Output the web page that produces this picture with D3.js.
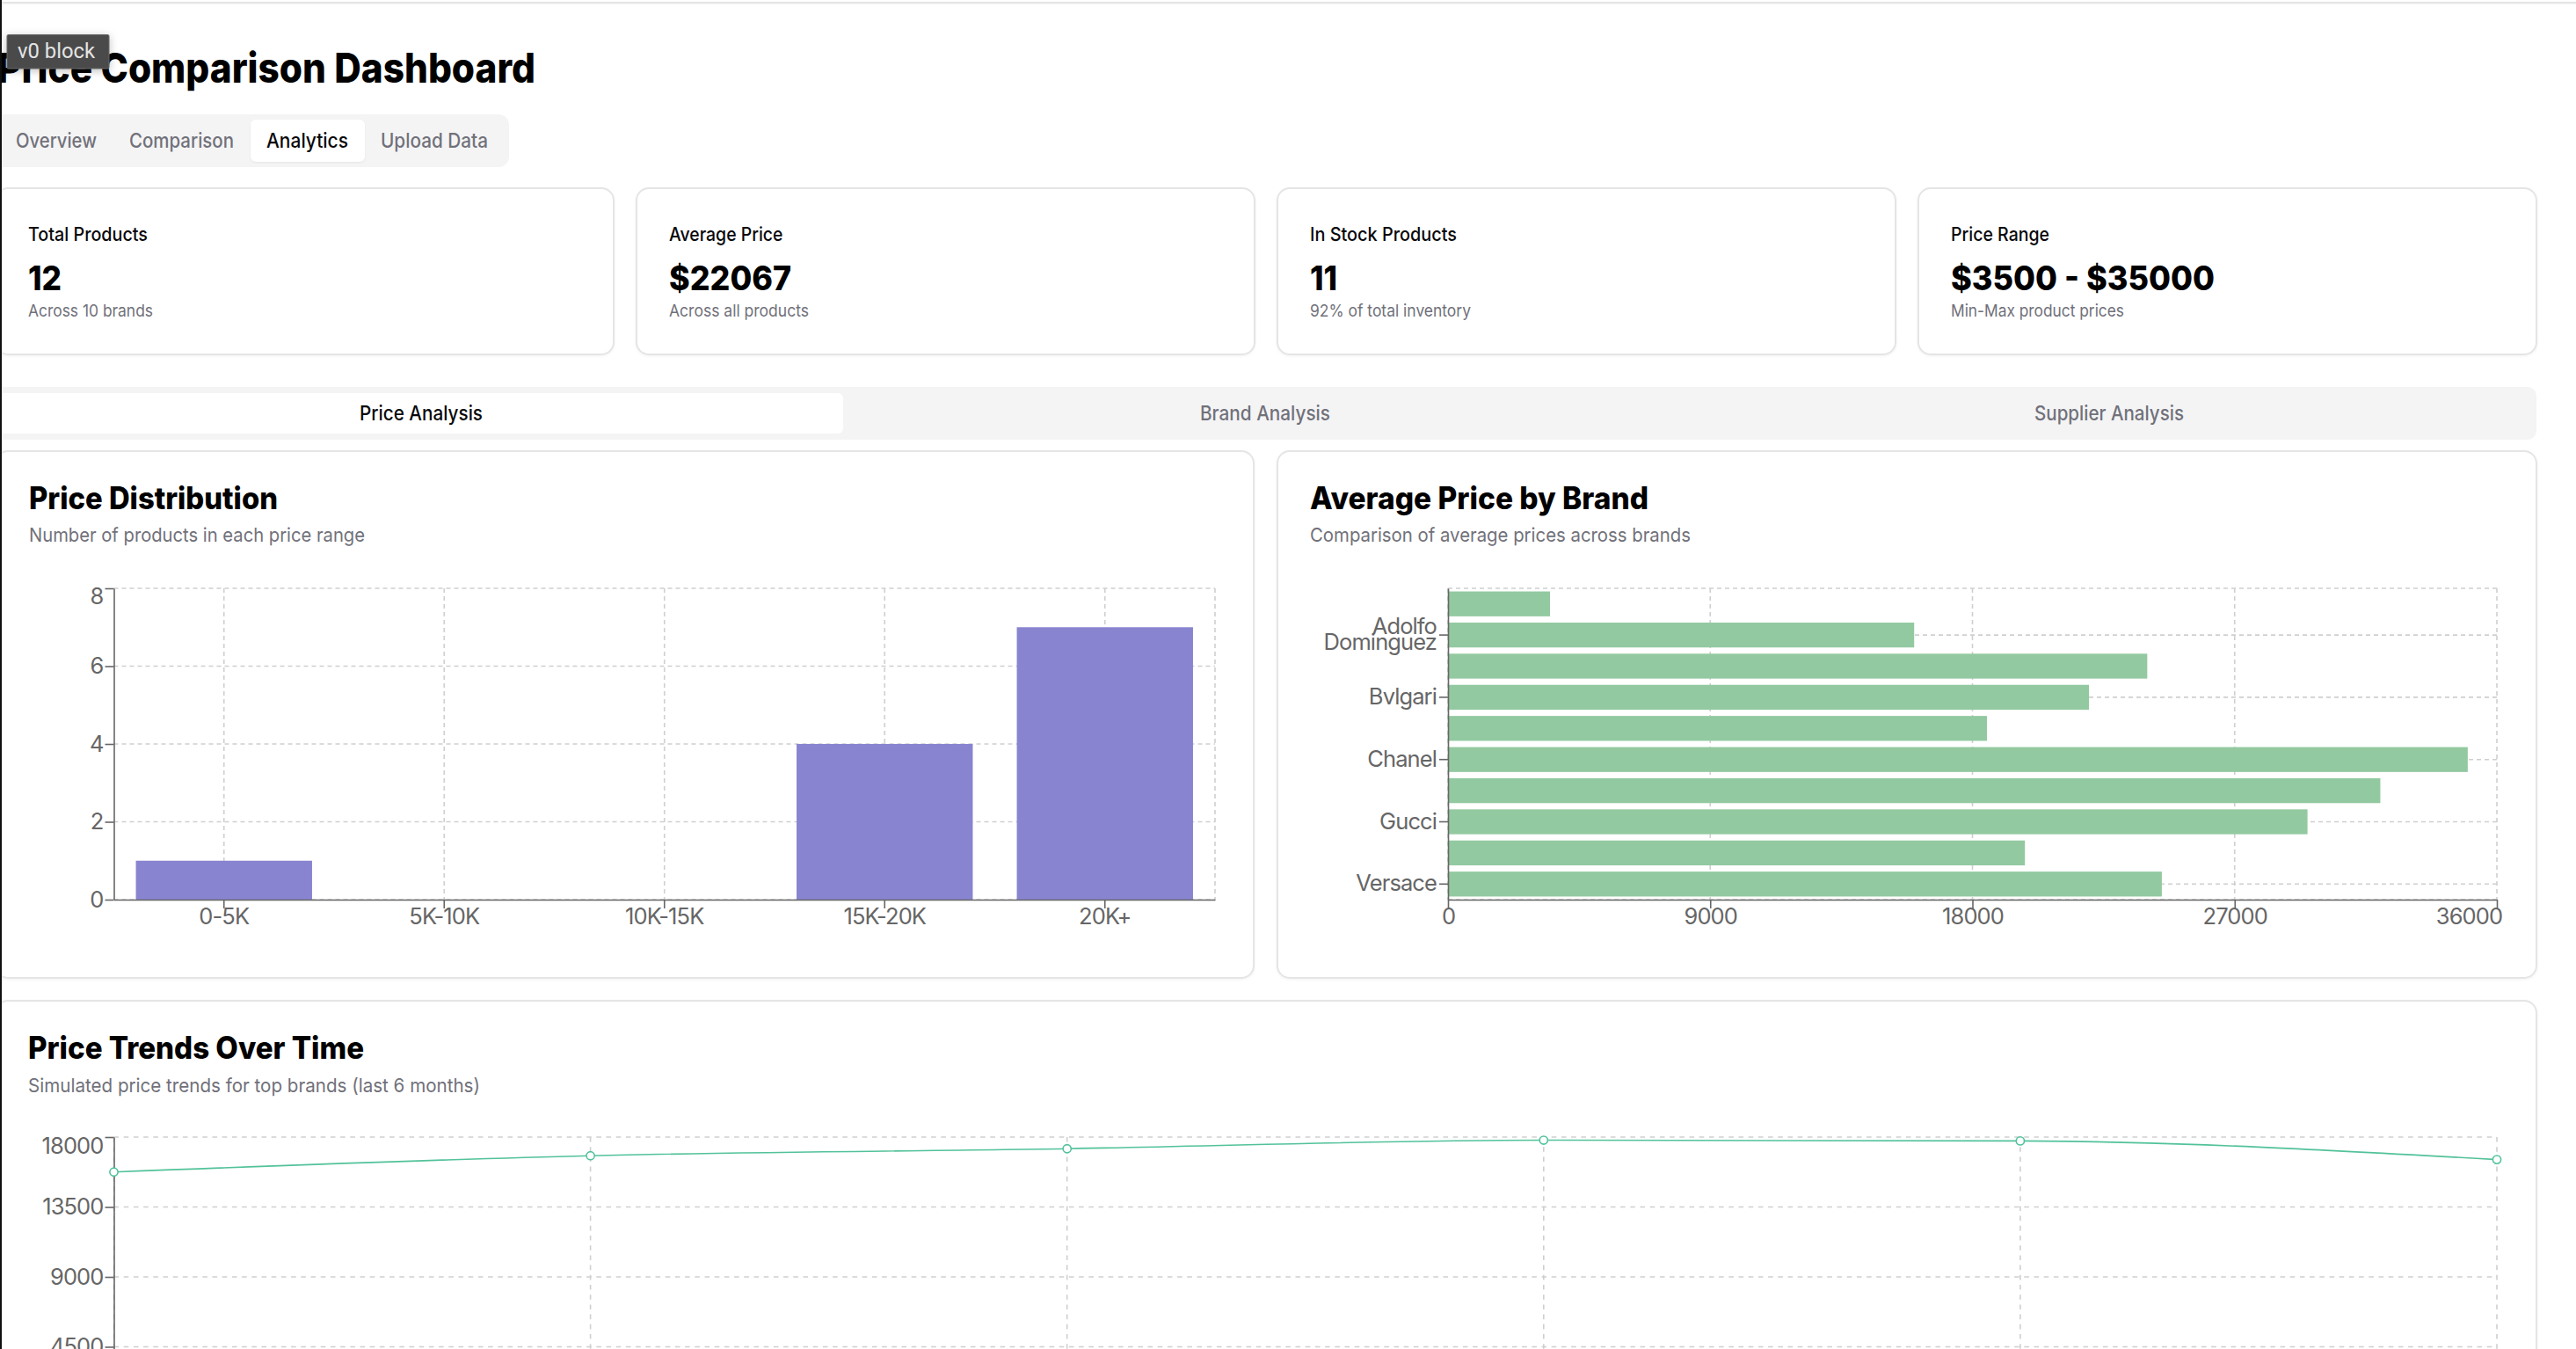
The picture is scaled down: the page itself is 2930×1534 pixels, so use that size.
<!DOCTYPE html>
<html><head><meta charset="utf-8">
<script src="https://cdn.jsdelivr.net/npm/d3@7"></script>
<style>
html,body{margin:0;padding:0;background:#fff;overflow:hidden}
svg{display:block;font-family:Inter,"Noto Sans",sans-serif}
.card{filter:drop-shadow(0 1.5px 1.5px rgba(0,0,0,.05))}
.axis text{font-family:Inter,sans-serif;font-size:25.5px;letter-spacing:-0.9px;fill:#666}
.axis path,.axis line{stroke:#666;stroke-width:1.6}
</style></head><body>
<script>
// ---- data ----
const navTabs = ["Overview","Comparison","Analytics","Upload Data"];
const statLabels = ["Total Products","Average Price","In Stock Products","Price Range"];
const statValues = ["12","$22067","11","$3500 - $35000"];
const statNotes = ["Across 10 brands","Across all products","92% of total inventory","Min-Max product prices"];
const subTabs = ["Price Analysis","Brand Analysis","Supplier Analysis"];

const priceRanges = ["0-5K","5K-10K","10K-15K","15K-20K","20K+"];
const priceCounts = [1,0,0,4,7];
const countTicks = [0,2,4,6,8];

const brandLabels = ["","Adolfo Dominguez","","Bvlgari","","Chanel","","Gucci","","Versace"];
const brandPrices = [3500,16000,24000,22000,18500,35000,32000,29500,19800,24500];
const brandTicks = [0,9000,18000,27000,36000];

const trendSteps = [0,1,2,3,4,5];
const trendPrices = [15750,16800,17250,17800,17750,16550];
const trendTicks = [4500,9000,13500,18000];

// ---- helpers ----
const W = 2930, H = 1534;
const svg = d3.select("body").append("svg").attr("width",W).attr("height",H).attr("viewBox",`0 0 ${W} ${H}`);
const MUTED = "#71717a", INK = "#09090b", GRID = "#cfcfcf";

function label(t,x,y,size,weight,fill,len,anchor){
  const e = svg.append("text").attr("x",x).attr("y",y).attr("font-size",size)
    .attr("font-weight",weight).attr("fill",fill).attr("text-anchor",anchor||"start").text(t);
  if(len) e.attr("textLength",len).attr("lengthAdjust","spacingAndGlyphs");
  return e;
}
function card(x,y,w,h){
  svg.append("rect").attr("class","card").attr("x",x).attr("y",y).attr("width",w).attr("height",h)
    .attr("rx",14).attr("fill","#fff").attr("stroke","#e5e5e5").attr("stroke-width",2);
}

// ---- page furniture ----
svg.append("rect").attr("x",0).attr("y",2).attr("width",W).attr("height",2.4).attr("fill","#e5e5e5");

label("Price Comparison Dashboard",-3,94,47,800,"#000",612);

svg.append("rect").attr("x",-20).attr("y",130).attr("width",599).attr("height",60).attr("rx",12).attr("fill","#f4f4f5");
svg.append("rect").attr("x",285).attr("y",136).attr("width",130).attr("height",48).attr("rx",6).attr("fill","#fff")
  .style("filter","drop-shadow(0 1px 1px rgba(0,0,0,.06))");
const navX=[18,147,303,433], navW=[92,119,93,122];
navTabs.forEach((t,i)=>label(t,navX[i],168,23,500,i===2?INK:MUTED,navW[i]));

const cardX=[-5,724,1453,2182], labW=[136,129.5,167,112], valW=[38,139,31,300], noteW=[142,159,183,197];
statLabels.forEach((t,i)=>{
  card(cardX[i],214,703,189);
  const tx=cardX[i]+37;
  label(t,tx,274,22,500,INK,labW[i]);
  label(statValues[i],tx,330,38,800,"#000",valW[i]);
  label(statNotes[i],tx,360,19,400,MUTED,noteW[i]);
});

svg.append("rect").attr("x",-20).attr("y",440).attr("width",2905).attr("height",60).attr("rx",10).attr("fill","#f4f4f5");
svg.append("rect").attr("x",-20).attr("y",447).attr("width",979).attr("height",46).attr("rx",6).attr("fill","#fff");
const subX=[479,1439,2399], subW=[140,148,170];
subTabs.forEach((t,i)=>label(t,subX[i],478,23,500,i===0?INK:MUTED,subW[i],"middle"));

// ---- chart cards ----
card(-5,513,1431,599);
card(1453,513,1432,599);
card(-5,1138,2890,600);
label("Price Distribution",33,579,35,800,"#000",283);
label("Number of products in each price range",33,616,22,400,MUTED,382);
label("Average Price by Brand",1490,579,35,800,"#000",385);
label("Comparison of average prices across brands",1490,616,22,400,MUTED,433);
label("Price Trends Over Time",32,1204,35,800,"#000",382);
label("Simulated price trends for top brands (last 6 months)",32,1242,22,400,MUTED,514);

function gridLines(g,xs,ys,x0,x1,y0,y1,dash){
  g.selectAll(".v").data(xs).join("line").attr("x1",d=>d).attr("x2",d=>d).attr("y1",y0).attr("y2",y1)
    .attr("stroke",GRID).attr("stroke-width",1.6).attr("stroke-dasharray",dash);
  g.selectAll(".h").data(ys).join("line").attr("y1",d=>d).attr("y2",d=>d).attr("x1",x0).attr("x2",x1)
    .attr("stroke",GRID).attr("stroke-width",1.6).attr("stroke-dasharray",dash);
}

// ---- price distribution ----
{
  const x0=129.5,x1=1382,y0=669,y1=1023;
  const x=d3.scaleBand().domain(priceRanges).range([x0,x1]).paddingInner(.2).paddingOuter(.1);
  const y=d3.scaleLinear().domain([0,8]).range([y1,y0]);
  const c=d=>x(d)+x.bandwidth()/2;
  const g=svg.append("g");
  gridLines(g.append("g"),priceRanges.map(c).concat([x1]),countTicks.map(y),x0,x1,y0,y1,"5 4");
  g.selectAll(".bar").data(priceRanges).join("rect").attr("x",d=>x(d)).attr("width",x.bandwidth())
    .attr("y",(d,i)=>y(priceCounts[i])).attr("height",(d,i)=>y(0)-y(priceCounts[i])).attr("fill","#8884d0");
  g.append("g").attr("class","axis").attr("transform",`translate(0,${y1})`)
    .call(d3.axisBottom(x).tickSize(10).tickSizeOuter(0).tickPadding(0));
  const ay=g.append("g").attr("class","axis").attr("transform",`translate(${x0},0)`)
    .call(d3.axisLeft(y).tickValues(countTicks).tickSize(10).tickSizeOuter(0).tickPadding(2));
  ay.selectAll(".tick text").filter(d=>d===8).attr("dy","0.69em");
}

// ---- average price by brand ----
{
  const x0=1647,x1=2840,y0=669,y1=1023;
  const idx=brandPrices.map((d,i)=>i);
  const x=d3.scaleLinear().domain([0,36000]).range([x0,x1]);
  const y=d3.scaleBand().domain(idx).range([y0,y1]).paddingInner(.2).paddingOuter(.1);
  const c=i=>y(i)+y.bandwidth()/2;
  const shown=idx.filter(i=>brandLabels[i]);
  const g=svg.append("g");
  gridLines(g.append("g"),brandTicks.map(x),[y0,y1].concat(shown.map(c)),x0,x1,y0,y1,"5 4");
  g.selectAll(".bar").data(brandPrices).join("rect").attr("x",x(0)).attr("width",d=>x(d)-x(0))
    .attr("y",(d,i)=>y(i)).attr("height",y.bandwidth()).attr("fill","#93c9a0");
  const ax=g.append("g").attr("class","axis").attr("transform",`translate(0,${y1})`)
    .call(d3.axisBottom(x).tickValues(brandTicks).tickFormat(d3.format("d")).tickSize(10).tickSizeOuter(0).tickPadding(0));
  ax.selectAll(".tick text").filter(d=>d===36000).attr("dx",-32);
  const ay=g.append("g").attr("class","axis").attr("transform",`translate(${x0},0)`)
    .call(d3.axisLeft(y).tickValues(shown).tickFormat(i=>brandLabels[i]).tickSize(10).tickSizeOuter(0).tickPadding(3));
  ay.selectAll(".tick text").filter(i=>brandLabels[i].includes(" ")).each(function(i){
    const t=d3.select(this), parts=brandLabels[i].split(" ");
    t.text(null).attr("dy",null);
    parts.forEach((p,k)=>t.append("tspan").attr("x",-13).attr("y",k===0?-1:17).text(p));
  });
}

// ---- price trends ----
{
  const x0=129.5,x1=2840,y0=1293,y1=1611;
  const x=d3.scalePoint().domain(trendSteps).range([x0,x1]);
  const y=d3.scaleLinear().domain([0,18000]).range([y1,y0]);
  const g=svg.append("g");
  gridLines(g.append("g"),trendSteps.map(x),trendTicks.map(y),x0,x1,y0,y1,"5.6 5.6");
  const ay=g.append("g").attr("class","axis").attr("transform",`translate(${x0},0)`)
    .call(d3.axisLeft(y).tickValues(trendTicks).tickFormat(d3.format("d")).tickSize(10).tickSizeOuter(0).tickPadding(2));
  ay.selectAll(".tick text").filter(d=>d===18000).attr("dy","0.72em");
  const line=d3.line().x((d,i)=>x(trendSteps[i])).y(d=>y(d)).curve(d3.curveMonotoneX);
  g.append("path").datum(trendPrices).attr("d",line).attr("fill","none").attr("stroke","#52c29a").attr("stroke-width",1.6);
  g.selectAll(".dot").data(trendPrices).join("circle").attr("cx",(d,i)=>x(trendSteps[i])).attr("cy",d=>y(d))
    .attr("r",4.6).attr("fill","#fff").attr("stroke","#52c29a").attr("stroke-width",1.6);
}

// ---- overlays ----
svg.append("rect").attr("x",0).attr("y",0).attr("width",2).attr("height",H).attr("fill","#111");
svg.append("rect").attr("x",8).attr("y",39.5).attr("width",116).attr("height",38.5).attr("rx",1.5)
  .attr("fill","#4a4a4a").attr("stroke","#6b6b6b").attr("stroke-width",1)
  .style("filter","drop-shadow(0 2px 5px rgba(0,0,0,.25))");
label("v0 block",20,66,23,400,"#e4e4e4",88).style("font-family","Roboto,sans-serif");
</script>
</body></html>
